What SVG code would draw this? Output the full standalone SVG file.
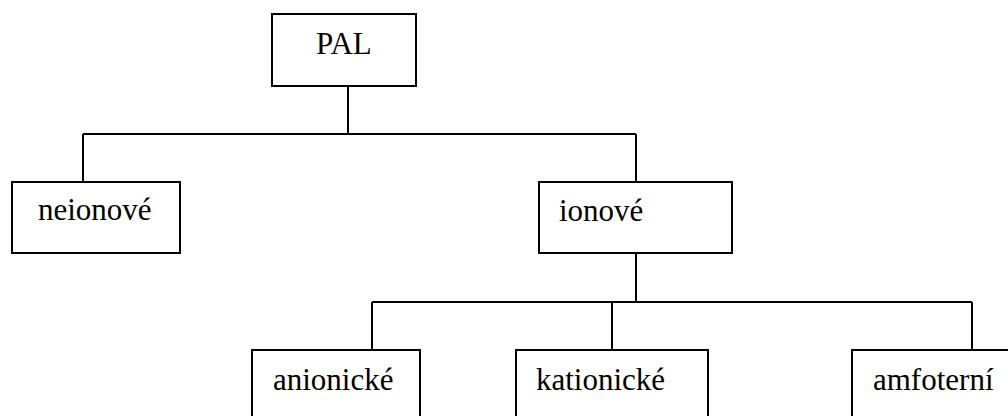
<svg xmlns="http://www.w3.org/2000/svg" width="1008" height="416" viewBox="0 0 1008 416">
<style>
.box{fill:#fff;stroke:#000;stroke-width:2}
.lbl{font-family:'Liberation Serif','DejaVu Serif',serif;font-size:31px;fill:#000}
.con{fill:none;stroke:#000;stroke-width:2}
</style>
<rect width="1008" height="416" fill="#fff"/>
<g id="connectors">
<path class="con" d="M348 86 V134 M83 134 H636 M83 134 V182 M636 134 V182"/>
<path class="con" d="M636 253 V302 M372 302 H972 M372 302 V350 M612 302 V350 M972 302 V350"/>
</g>
<g id="node-pal"><rect class="box" x="272" y="14" width="144" height="72"/><text class="lbl" x="316" y="54">PAL</text></g>
<g id="node-neionove"><rect class="box" x="12" y="182" width="168" height="71"/><text class="lbl" x="38" y="220">neionové</text></g>
<g id="node-ionove"><rect class="box" x="539" y="182" width="193" height="71"/><text class="lbl" x="559" y="221">ionové</text></g>
<g id="node-anionicke"><rect class="box" x="252" y="350" width="168" height="80"/><text class="lbl" x="273" y="390">anionické</text></g>
<g id="node-kationicke"><rect class="box" x="516" y="350" width="192" height="80"/><text class="lbl" x="536" y="390">kationické</text></g>
<g id="node-amfoterni"><rect class="box" x="852" y="350" width="170" height="80"/><text class="lbl" x="873" y="390">amfoterní</text></g>
</svg>
